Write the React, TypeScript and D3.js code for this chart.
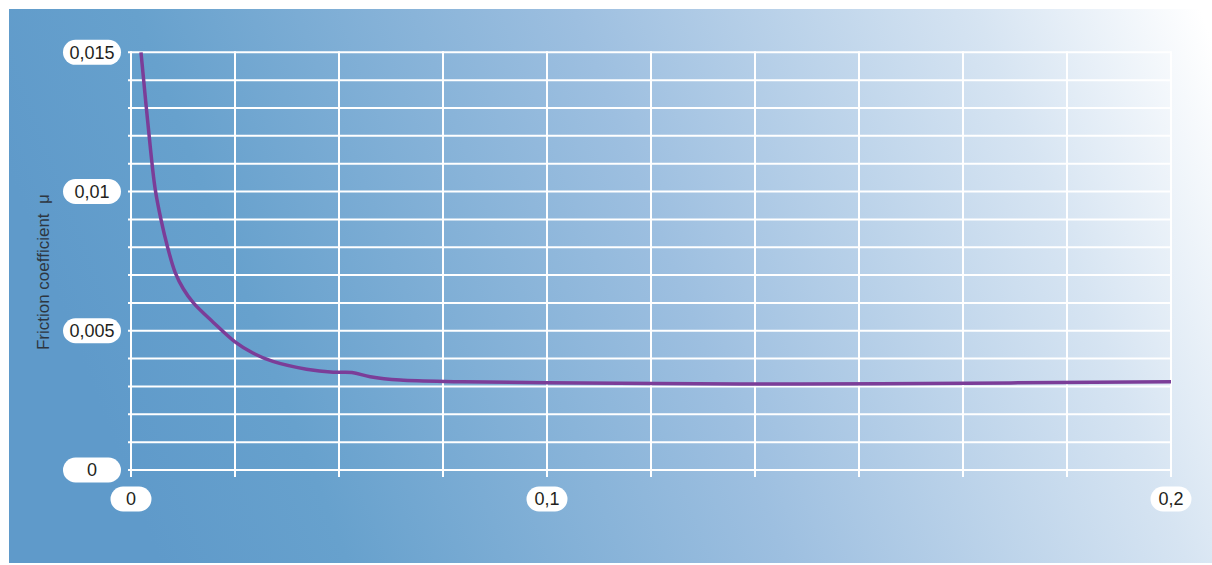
import React from "react";
import * as d3 from "d3";

// ---- data ----
const xTicks = [0, 0.1, 0.2];
const xTickLabels = ["0", "0,1", "0,2"];
const yTicks = [0, 0.005, 0.01, 0.015];
const yTickLabels = ["0", "0,005", "0,01", "0,015"];
const yGridStep = 0.001;
const xGridCount = 10;
const yTitle = "Friction coefficient\u00a0\u00a0\u03bc";

const curveX = [
  0.0024, 0.0047, 0.0058, 0.0072, 0.0088, 0.0106, 0.0126, 0.015, 0.0198, 0.025,
  0.0293, 0.0341, 0.0422, 0.0486, 0.0531, 0.0575, 0.0647, 0.0791, 0.1, 0.1309,
  0.1534, 0.2,
];
const curveY = [
  0.015, 0.0115, 0.0101, 0.009, 0.008, 0.0071, 0.0065, 0.006, 0.0053, 0.0046,
  0.0042, 0.0039, 0.00362, 0.00351, 0.0035, 0.00335, 0.00323, 0.00317, 0.00313,
  0.00309, 0.0031, 0.00317,
];

// ---- layout ----
const W = 1212;
const H = 565;
const plot = { left: 131, right: 1171, top: 52.3, bottom: 470 };

export default function App() {
  const x = d3
    .scaleLinear()
    .domain([0, 0.1, 0.2])
    .range([plot.left, plot.left + 0.4 * (plot.right - plot.left), plot.right]);
  const y = d3.scaleLinear().domain([0, 0.015]).range([plot.bottom, plot.top]);
  const gx = d3.scaleLinear().domain([0, xGridCount]).range([plot.left, plot.right]);

  const yGrid = d3.range(0, 0.015 + 1e-9, yGridStep);
  const xGrid = d3.range(0, xGridCount + 1);

  const pts: [number, number][] = curveX.map((v, i) => [v, curveY[i]]);
  const line = d3
    .line<[number, number]>()
    .x((d) => x(d[0]))
    .y((d) => y(d[1]))
    .curve(d3.curveCatmullRom.alpha(0.5));

  const font = "'Liberation Sans', Arial, Helvetica, sans-serif";

  return (
    <svg
      width={W}
      height={H}
      style={{ position: "absolute", left: 0, top: 0, display: "block" }}
    >
      <defs>
        <linearGradient id="bg" gradientUnits="userSpaceOnUse" x1={120} y1={460} x2={1212} y2={40}>
          <stop offset="0" stopColor="#5f9aca" />
          <stop offset="0.15" stopColor="#67a1cd" />
          <stop offset="0.5" stopColor="#9dbfe0" />
          <stop offset="0.82" stopColor="#d6e4f2" />
          <stop offset="1" stopColor="#ffffff" />
        </linearGradient>
      </defs>
      <rect x={9} y={9} width={W - 9} height={563 - 9} fill="url(#bg)" />

      {/* horizontal grid */}
      {yGrid.map((v, i) => (
        <line
          key={"h" + i}
          x1={plot.left - 3}
          x2={plot.right}
          y1={y(v)}
          y2={y(v)}
          stroke="#ffffff"
          strokeWidth={2}
        />
      ))}
      {/* vertical grid */}
      {xGrid.map((k) => (
        <line
          key={"v" + k}
          x1={gx(k)}
          x2={gx(k)}
          y1={plot.top - 1}
          y2={plot.bottom + 7}
          stroke="#ffffff"
          strokeWidth={2}
        />
      ))}

      {/* curve */}
      <path d={line(pts) || ""} fill="none" stroke="#7b3d98" strokeWidth={3.5} strokeLinejoin="round" />

      {/* y tick labels */}
      {yTicks.map((v, i) => (
        <g key={"yt" + i} transform={`translate(92,${y(v)})`}>
          <rect x={-29} y={-12.5} width={58} height={25} rx={12.5} fill="#ffffff" />
          <text
            textAnchor="middle"
            dy="0.36em"
            fontFamily={font}
            fontSize={18}
            fill="#231f20"
          >
            {yTickLabels[i]}
          </text>
        </g>
      ))}

      {/* x tick labels */}
      {xTicks.map((v, i) => (
        <g key={"xt" + i} transform={`translate(${x(v)},499)`}>
          <rect x={-20.5} y={-12.5} width={41} height={25} rx={12.5} fill="#ffffff" />
          <text
            textAnchor="middle"
            dy="0.36em"
            fontFamily={font}
            fontSize={18}
            fill="#231f20"
          >
            {xTickLabels[i]}
          </text>
        </g>
      ))}

      {/* y title */}
      <text
        transform={`translate(49,${(plot.top + plot.bottom) / 2 + 11}) rotate(-90)`}
        textAnchor="middle"
        fontFamily={font}
        fontSize={17}
        fill="#2e3640"
      >
        {yTitle}
      </text>
    </svg>
  );
}
